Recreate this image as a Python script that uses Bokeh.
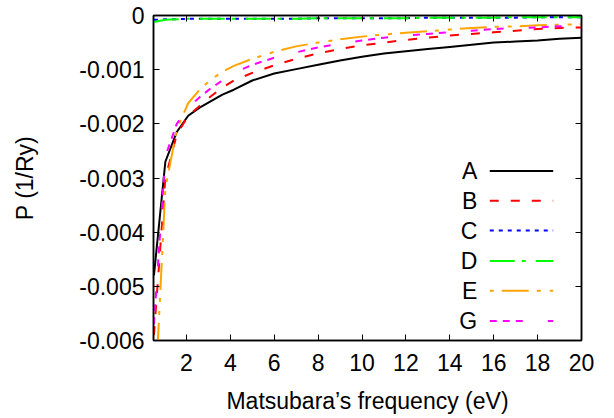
from bokeh.plotting import figure
from bokeh.models import LinearAxis, FixedTicker, PrintfTickFormatter, Range1d
from bokeh.core.properties import value
from bokeh.embed import file_html
from bokeh.resources import INLINE

# ---- data ----
freq = [0.52, 1.04, 1.56, 2.08, 2.6, 3.12, 3.64, 4.16, 5, 6, 7, 8, 9, 10,
        11, 12, 13, 14, 15, 16, 17, 18, 19, 20]
p_A = [-0.0048, -0.0027, -0.00215, -0.00185, -0.0017, -0.00158, -0.00146,
       -0.00137, -0.0012, -0.00107, -0.00099, -0.00091, -0.00083, -0.00076,
       -0.0007, -0.00066, -0.00062, -0.00058, -0.00054, -0.0005, -0.00048,
       -0.00046, -0.00043, -0.00041]
p_B = [-0.0059, -0.003, -0.0022, -0.00185, -0.00167, -0.00149, -0.00133,
       -0.0012, -0.00106, -0.00092, -0.0008, -0.0007, -0.00062, -0.00055,
       -0.0005, -0.00045, -0.00041, -0.00037, -0.00034, -0.00031, -0.00028,
       -0.00025, -0.00023, -0.00022]
p_C = [-0.00008, -0.00007, -0.00007, -0.00006, -0.00006, -0.00006, -0.00006,
       -0.00006, -0.00006, -0.00006, -0.00006, -0.00005, -0.00005, -0.00005,
       -0.00005, -0.00005, -0.00004, -0.00004, -0.00004, -0.00004, -0.00004,
       -0.00003, -0.00003, -0.00003]
p_D = [-0.00012, -0.00008, -0.00007, -0.00006, -0.00006, -0.00006, -0.00006,
       -0.00006, -0.00006, -0.00006, -0.00006, -0.00005, -0.00005, -0.00005,
       -0.00005, -0.00005, -0.00004, -0.00004, -0.00004, -0.00004, -0.00003,
       -0.00003, -0.00003, -0.00003]
p_E = [-0.0075, -0.0032, -0.0021, -0.00162, -0.00137, -0.00118, -0.00104,
       -0.00093, -0.0008, -0.00067, -0.00057, -0.0005, -0.00044, -0.00039,
       -0.00035, -0.00032, -0.00029, -0.00026, -0.00023, -0.00021, -0.0002,
       -0.00018, -0.00017, -0.00016]
p_G = [-0.0057, -0.0026, -0.002, -0.0017, -0.00151, -0.00134, -0.0012,
       -0.00106, -0.00091, -0.00078, -0.00068, -0.00059, -0.00052, -0.00046,
       -0.00041, -0.00037, -0.00034, -0.00031, -0.00028, -0.00025, -0.00023,
       -0.00022, -0.0002, -0.00018]
labels = ["A", "B", "C", "D", "E", "G"]
x_ticks = [2, 4, 6, 8, 10, 12, 14, 16, 18, 20]
y_ticks = [0, -0.001, -0.002, -0.003, -0.004, -0.005, -0.006]

# ---- styles ----
colors = ["black", "#ff0000", "#0000ff", "#00ff00", "#ffa500", "#ff00ff"]
dashes = ["solid", "9 12", "4 5", "25 7 4 10", "4 8 27 8 4 9", "7 6 7 6 7 25"]
FONT = "Liberation Sans"
FS = "23px"

p = figure(width=614, height=418, x_range=Range1d(0.5, 20), y_range=Range1d(-0.006, 0),
           output_backend="svg", toolbar_location=None,
           min_border_left=153, min_border_right=33, min_border_top=15, min_border_bottom=78)
p.grid.visible = False
p.outline_line_color = "black"
p.outline_line_width = 1.5
p.background_fill_color = "white"
p.border_fill_color = "white"

def style_axis(ax, show_labels):
    ax.axis_line_color = "black"
    ax.axis_line_width = 1.5
    ax.major_tick_in = 6
    ax.major_tick_out = 0
    ax.major_tick_line_color = "black"
    ax.major_tick_line_width = 1
    ax.minor_tick_line_color = None
    ax.major_label_text_font = FONT
    if show_labels:
        ax.major_label_text_font_size = FS
        ax.major_label_text_color = "black"
    else:
        ax.major_label_text_font_size = "1px"
        ax.major_label_text_color = None
        ax.major_label_standoff = 0

for ax in p.xaxis:
    ax.ticker = FixedTicker(ticks=x_ticks)
    style_axis(ax, True)
    ax.major_label_standoff = 13
    ax.axis_label = "Matsubara’s frequency (eV)"
    ax.axis_label_text_font = FONT
    ax.axis_label_text_font_size = FS
    ax.axis_label_text_font_style = "normal"
    ax.axis_label_text_color = "black"
    ax.axis_label_standoff = 14

for ax in p.yaxis:
    ax.ticker = FixedTicker(ticks=y_ticks)
    ax.formatter = PrintfTickFormatter(format="%g")
    style_axis(ax, True)
    ax.major_label_standoff = 9
    ax.axis_label = "P (1/Ry)"
    ax.axis_label_text_font = FONT
    ax.axis_label_text_font_size = FS
    ax.axis_label_text_font_style = "normal"
    ax.axis_label_text_color = "black"
    ax.axis_label_standoff = 38

top_ax = LinearAxis(ticker=FixedTicker(ticks=x_ticks))
style_axis(top_ax, False)
p.add_layout(top_ax, "above")
right_ax = LinearAxis(ticker=FixedTicker(ticks=y_ticks))
style_axis(right_ax, False)
p.add_layout(right_ax, "right")

series = [p_A, p_B, p_C, p_D, p_E, p_G]
for ys, c, d in zip(series, colors, dashes):
    p.line(freq, ys, line_color=c, line_width=2, line_dash=d)

# ---- manual gnuplot-style legend (label left, sample right) ----
leg_text_x = 15.25
leg_line_x0, leg_line_x1 = 15.82, 18.71
leg_rows = [-0.00287, -0.00342, -0.00397, -0.00453, -0.00508, -0.00564]
p.text(x=[leg_text_x] * len(labels), y=leg_rows, text=labels,
       text_align="right", text_baseline="middle",
       text_font=value(FONT), text_font_size=FS, text_color="black")
for yr, c, d in zip(leg_rows, colors, dashes):
    p.line([leg_line_x0, leg_line_x1], [yr, yr], line_color=c, line_width=2, line_dash=d)

open("out.html", "w").write(file_html(p, INLINE))
